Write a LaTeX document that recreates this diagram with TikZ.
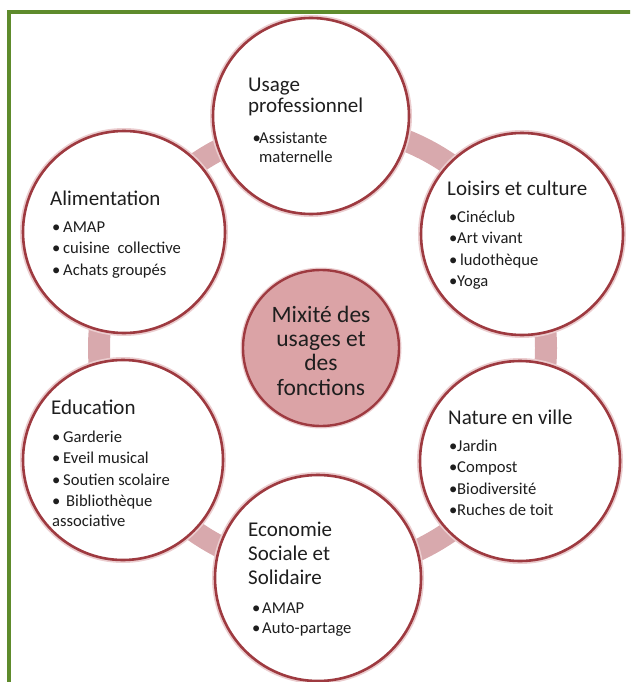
\documentclass[tikz,border=0pt]{standalone}
\usepackage{fontspec}
\setmainfont{Carlito}
\definecolor{framegreen}{HTML}{5E8B2C}
\definecolor{rim}{HTML}{9E3A40}
\definecolor{halo}{HTML}{EBCDCF}
\definecolor{band}{HTML}{D8A9AD}
\definecolor{hubfill}{HTML}{DBA3A6}
\definecolor{ink}{HTML}{1E1E1E}

% bullet set in a box of given width
\newcommand\bul[1]{\makebox[#1][l]{•}}

\begin{document}
\begin{tikzpicture}[x=1pt,y=-1pt,
  bubble/.style={circle, draw=rim, line width=2.6pt, fill=white,
    inner sep=0pt, minimum size=#1,
    preaction={draw=halo, line width=6pt}},
  hubstyle/.style={circle, draw=rim, line width=2.4pt, fill=hubfill,
    inner sep=0pt, minimum size=#1,
    preaction={draw=halo, line width=5pt}},
  ring/.style={draw=band, line width=22pt},
  % multi-line texts are placed by the baseline of their last line
  title/.style={anchor=base west, inner sep=0pt, align=left, text=ink,
    font=\fontsize{21}{22.5}\selectfont},
  items/.style={anchor=base west, inner sep=0pt, align=left, text=ink,
    font=\fontsize{16.6}{21.6}\selectfont},
  hubtext/.style={anchor=base, inner sep=0pt, align=center, text=ink,
    font=\fontsize{23.5}{24.3}\selectfont},
]
\useasboundingbox (0,0) rectangle (630,682);

% outer frame, open on the right and bottom
\begin{scope}
  \clip (0,0) rectangle (630,682);
  \draw[framegreen, line width=4pt] (8.7,720) |- (660,12);
\end{scope}

% centre of the cycle
\coordinate (mid) at (322.5,348);

% ring linking the six bubbles
\draw[ring] (mid) circle[radius=223.5];

% bubbles
\node[bubble=196pt] (usage)  at (311,116) {};
\node[bubble=202pt] (loisir) at (522,234) {};
\node[bubble=200pt] (nature) at (520,461) {};
\node[bubble=206pt] (eco)    at (318,578) {};
\node[bubble=200pt] (educ)   at (123,460) {};
\node[bubble=202pt] (alim)   at (124,232) {};
\node[hubstyle=156pt] (hub)  at (321,348) {};

% hub label
\node[hubtext] (hubtxt) at (321,395) {Mixité des\\usages et\\des\\fonctions};

% Usage professionnel
\node[title] (usage-t) at (248,113) {Usage\\[-1.5pt]professionnel};
\node[items] (usage-l) at (252.5,162) {\bul{6.5pt}Assistante\\[-2.6pt]\hspace*{6.5pt}maternelle};

% Loisirs et culture
\node[title] (loisir-t) at (447,195) {Loisirs et culture};
\node[items] (loisir-l) at (449,286.8) {\bul{8pt}Cinéclub\\\bul{8pt}Art vivant\\\bul{11pt}ludothèque\\\bul{8pt}Yoga};

% Nature en ville
\node[title] (nature-t) at (448,424) {Nature en ville};
\node[items] (nature-l) at (449,515.8) {\bul{8pt}Jardin\\\bul{8pt}Compost\\\bul{8pt}Biodiversité\\\bul{8pt}Ruches de toit};

% Economie Sociale et Solidaire
\node[title] (eco-t) at (248,584) {Economie\\[1.5pt]Sociale et\\[1.5pt]Solidaire};
\node[items] (eco-l) at (252,633) {\bul{10pt}AMAP\\[-1.6pt]\bul{10pt}Auto-partage};

% Education
\node[title] (educ-t) at (51,414) {Education};
\node[items] (educ-l) at (52,526.8) {\bul{11pt}Garderie\\\bul{11pt}Eveil musical\\\bul{11pt}Soutien scolaire\\\bul{14pt}Bibliothèque\\[-1.6pt]associative};

% Alimentation
\node[title] (alim-t) at (50,205) {Alimentation};
\node[items] (alim-l) at (52,275.2) {\bul{11pt}AMAP\\\bul{11pt}cuisine\ \ collective\\\bul{11pt}Achats groupés};

\end{tikzpicture}
\end{document}
